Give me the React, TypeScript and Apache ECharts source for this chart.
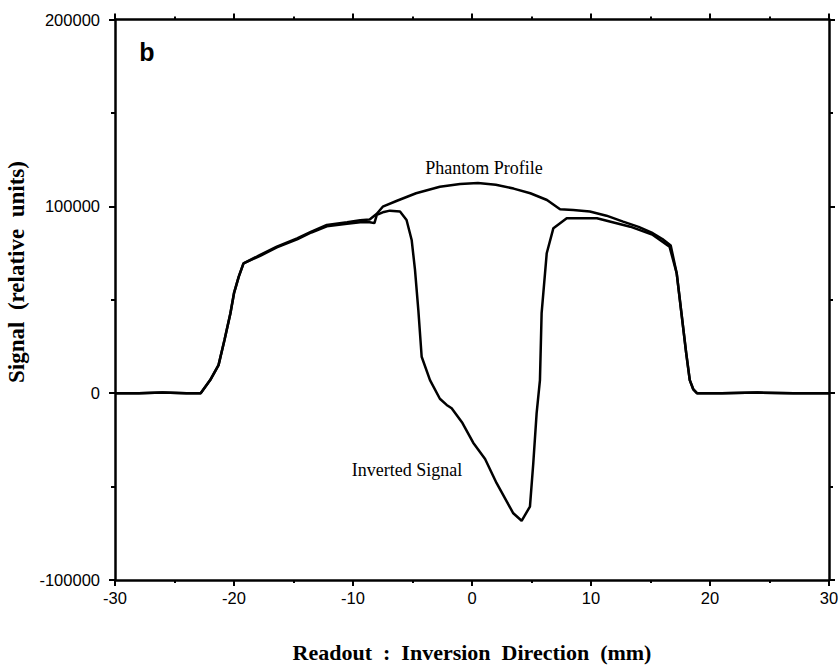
import React, { useEffect, useRef } from "react";
import * as echarts from "echarts";

// Readout position (mm) and signal (relative units) for the phantom profile
const phantomX = [-30, -28, -26, -24, -22.8, -22.0, -21.3, -20.8, -20.3, -20.0, -19.6, -19.2, -17.8, -16.4, -14.7, -13.5, -12.2, -10.5, -9.4, -8.6, -8.0, -7.5, -6.3, -4.7, -2.7, -1.0, 0.5, 2.0, 3.5, 4.9, 6.3, 7.4, 8.5, 9.9, 11.3, 12.7, 14.0, 15.2, 16.0, 16.7, 17.2, 17.6, 18.0, 18.3, 18.6, 18.9, 21, 24, 27, 30];
const phantomY = [0, 0, 300, 0, 0, 7000, 15000, 28500, 42800, 53500, 62400, 69500, 74000, 78400, 82900, 86500, 90000, 91500, 92500, 93000, 96000, 99800, 103000, 107000, 110500, 112000, 112500, 111500, 109500, 107000, 103400, 98400, 98000, 97200, 95000, 91800, 89000, 85600, 82500, 79000, 64200, 42800, 21400, 7000, 2000, 0, 0, 300, 0, 0];

// Readout position (mm) and signal for the inverted signal
const invertedX = [-30, -28, -26, -24, -22.8, -22.0, -21.3, -20.8, -20.3, -20.0, -19.6, -19.2, -17.8, -16.4, -14.7, -13.5, -12.2, -10.5, -9.4, -8.6, -8.2, -8.0, -7.4, -6.9, -6.05, -5.5, -5.07, -4.79, -4.51, -4.23, -3.53, -2.7, -2.13, -1.71, -0.8, 0.1, 1.1, 2.07, 3.47, 4.17, 4.87, 5.15, 5.43, 5.71, 5.85, 6.28, 6.84, 7.96, 10.5, 13.3, 15.2, 16.6, 17.2, 17.6, 18.0, 18.3, 18.6, 18.9, 21, 24, 27, 30];
const invertedY = [0, 0, 300, 0, 0, 7000, 15000, 28500, 42800, 53500, 62400, 69500, 73500, 78000, 82300, 86000, 89300, 90700, 91500, 91500, 91000, 95400, 97000, 97700, 97200, 92700, 82000, 66000, 44500, 19500, 7000, -3000, -6300, -8100, -16000, -26500, -35200, -48200, -64300, -68300, -60700, -37500, -10800, 7000, 42800, 74900, 88300, 93600, 93600, 89100, 84700, 78400, 64200, 42800, 21400, 7000, 2000, 0, 0, 300, 0, 0];

// Axis ranges and ticks
const xRange = [-30, 30];
const xInterval = 10;
const yRange = [-100000, 200000];
const yInterval = 100000;

const seriesNames = ["Phantom Profile", "Inverted Signal"];
const xTitle = "Readout  :  Inversion  Direction  (mm)";
const yTitle = "Signal  (relative  units)";

export default function App() {
  const ref = useRef<HTMLDivElement>(null);

  useEffect(() => {
    if (!ref.current) return;
    const chart = echarts.init(ref.current, undefined, { renderer: "svg" });
    const axisLine = { show: true, onZero: false, lineStyle: { color: "#000", width: 2.5 } };
    const labelFont = {
      fontFamily: "Liberation Sans",
      fontSize: 16.5,
      color: "#000",
    };
    const titleFont = {
      fontFamily: "Liberation Serif",
      fontWeight: "bold" as const,
      fontSize: 22,
      color: "#000",
    };
    const xCommon = {
      type: "value" as const,
      min: xRange[0],
      max: xRange[1],
      interval: xInterval,
      axisLine,
      splitLine: { show: false },
      minorTick: { show: true, splitNumber: 2, length: 3, lineStyle: { color: "#000", width: 2 } },
      axisTick: { show: true, inside: false, length: 6, lineStyle: { color: "#000", width: 2 } },
    };
    const yCommon = {
      type: "value" as const,
      min: yRange[0],
      max: yRange[1],
      interval: yInterval,
      axisLine,
      splitLine: { show: false },
      minorTick: { show: true, splitNumber: 2, length: 4, lineStyle: { color: "#000", width: 2 } },
      axisTick: { show: true, inside: false, length: 6, lineStyle: { color: "#000", width: 2 } },
    };

    chart.setOption({
      animation: false,
      backgroundColor: "#fff",
      grid: { left: 115, right: 11, top: 19.5, bottom: 85, outerBoundsMode: "none", containLabel: false },
      xAxis: [
        {
          ...xCommon,
          position: "bottom",
          name: xTitle,
          nameLocation: "middle",
          nameGap: 61,
          nameTextStyle: titleFont,
          axisLabel: { ...labelFont, margin: 9, formatter: (v: number) => String(v) },
        },
        {
          ...xCommon,
          position: "top",
          axisLabel: { show: false },
        },
      ],
      yAxis: [
        {
          ...yCommon,
          position: "left",
          axisLabel: { ...labelFont, margin: 15, formatter: (v: number) => String(v) },
        },
        {
          ...yCommon,
          position: "right",
          axisLabel: { show: false },
        },
      ],
      series: [
        {
          name: seriesNames[0],
          type: "line",
          data: phantomX.map((x, i) => [x, phantomY[i]]),
          showSymbol: false,
          symbol: "none",
          lineStyle: { color: "#000", width: 2.5 },
          z: 3,
        },
        {
          name: seriesNames[1],
          type: "line",
          data: invertedX.map((x, i) => [x, invertedY[i]]),
          showSymbol: false,
          symbol: "none",
          lineStyle: { color: "#000", width: 2.5 },
          z: 3,
        },
      ],
      graphic: [
        {
          type: "text",
          x: 16,
          y: 272,
          rotation: Math.PI / 2,
          style: {
            text: yTitle,
            fontFamily: "Liberation Serif",
            fontWeight: "bold",
            fontSize: 23,
            fill: "#000",
            align: "center",
            verticalAlign: "middle",
          },
        },
        {
          type: "text",
          x: 147,
          y: 52,
          style: {
            text: "b",
            fontFamily: "Liberation Sans",
            fontWeight: "bold",
            fontSize: 25,
            fill: "#000",
            align: "center",
            verticalAlign: "middle",
          },
        },
        {
          type: "text",
          x: 484,
          y: 168,
          style: {
            text: seriesNames[0],
            fontFamily: "Liberation Serif",
            fontSize: 18,
            fill: "#000",
            align: "center",
            verticalAlign: "middle",
          },
        },
        {
          type: "text",
          x: 407,
          y: 470,
          style: {
            text: seriesNames[1],
            fontFamily: "Liberation Serif",
            fontSize: 18,
            fill: "#000",
            align: "center",
            verticalAlign: "middle",
          },
        },
      ],
    });
    return () => chart.dispose();
  }, []);

  return (
    <div
      ref={ref}
      style={{ position: "fixed", left: 0, top: 0, width: 840, height: 665, background: "#fff" }}
    />
  );
}
